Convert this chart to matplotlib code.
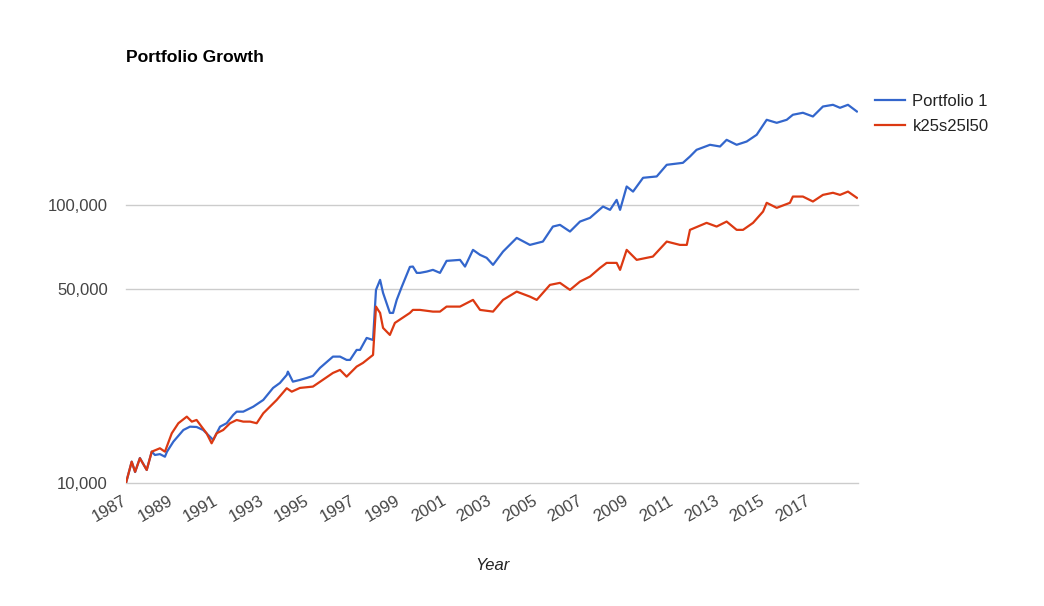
import matplotlib
matplotlib.use("Agg")
import matplotlib.pyplot as plt
from matplotlib.ticker import FixedLocator, FuncFormatter, NullLocator

plt.rcParams['font.family'] = ['Liberation Sans', 'DejaVu Sans']

# Portfolio 1 (blue) - (decimal year, value)
p1_years = [1987.00, 1987.25, 1987.40, 1987.61, 1987.91, 1988.13, 1988.27, 1988.49, 1988.71, 1988.80,
            1989.08, 1989.52, 1989.81, 1990.10, 1990.39, 1990.61, 1990.83, 1991.13, 1991.42, 1991.71,
            1991.86, 1992.15, 1992.59, 1993.03, 1993.46, 1993.76, 1994.06, 1994.11, 1994.33, 1994.64,
            1994.94, 1995.21, 1995.52, 1996.09, 1996.40, 1996.69, 1996.84, 1997.13, 1997.28, 1997.57,
            1997.85, 1997.98, 1998.16, 1998.29, 1998.59, 1998.73, 1998.89, 1999.11, 1999.47, 1999.60,
            1999.77, 1999.91, 2000.21, 2000.48, 2000.79, 2001.08, 2001.67, 2001.89, 2002.24, 2002.55,
            2002.84, 2003.12, 2003.56, 2004.16, 2004.74, 2005.31, 2005.75, 2006.06, 2006.50, 2006.94,
            2007.38, 2007.95, 2008.26, 2008.55, 2008.70, 2008.99, 2009.27, 2009.71, 2010.31, 2010.75,
            2011.46, 2011.77, 2012.06, 2012.65, 2013.09, 2013.38, 2013.82, 2014.26, 2014.70, 2015.14,
            2015.58, 2016.02, 2016.29, 2016.73, 2017.17, 2017.61, 2018.05, 2018.36, 2018.71, 2019.10]
p1_values = [10000, 11930, 10950, 12300, 11140, 12960, 12610, 12700, 12430, 12960,
             14080, 15510, 15940, 15900, 15510, 14880, 14280, 15940, 16400, 17570,
             18050, 18050, 18810, 19890, 21970, 22890, 24460, 25140, 23140, 23470,
             23860, 24260, 25930, 28470, 28470, 27700, 27700, 30090, 30090, 33230,
             32680, 49460, 53740, 48260, 40880, 40880, 45530, 50700, 59840, 60000,
             56940, 56940, 57560, 58380, 56940, 62890, 63410, 59990, 68890, 66090,
             64480, 60840, 67920, 76060, 71780, 73790, 83550, 84740, 80170, 87080,
             89790, 98610, 95940, 104200, 95940, 116400, 111600, 125100, 126500, 139300,
             141600, 149200, 157700, 164400, 162100, 171300, 164400, 168900, 178600, 202200,
             197200, 202200, 210800, 214300, 207800, 225700, 228900, 223300, 228900, 216600]

# k25s25l50 (red)
k_years = [1987.00, 1987.25, 1987.40, 1987.61, 1987.91, 1988.13, 1988.49, 1988.71, 1989.01, 1989.30,
           1989.67, 1989.89, 1990.10, 1990.32, 1990.54, 1990.76, 1990.98, 1991.27, 1991.57, 1991.86,
           1992.15, 1992.45, 1992.74, 1993.03, 1993.62, 1994.06, 1994.28, 1994.64, 1995.21, 1996.09,
           1996.40, 1996.69, 1997.13, 1997.41, 1997.85, 1997.98, 1998.07, 1998.16, 1998.29, 1998.59,
           1998.81, 1999.47, 1999.60, 1999.91, 2000.48, 2000.79, 2001.08, 2001.67, 2002.24, 2002.55,
           2003.12, 2003.56, 2004.16, 2004.74, 2005.04, 2005.62, 2006.06, 2006.50, 2006.94, 2007.38,
           2007.82, 2008.11, 2008.55, 2008.70, 2008.99, 2009.43, 2010.14, 2010.75, 2011.33, 2011.63,
           2011.77, 2012.50, 2012.94, 2013.38, 2013.82, 2014.10, 2014.54, 2014.98, 2015.14, 2015.58,
           2016.16, 2016.29, 2016.73, 2017.17, 2017.61, 2018.05, 2018.36, 2018.71, 2019.10]
k_values = [10000, 11930, 10970, 12270, 11140, 12960, 13330, 12960, 15090, 16400,
            17320, 16620, 16850, 15940, 15090, 13890, 15090, 15510, 16400, 16850,
            16620, 16620, 16400, 17810, 19890, 21910, 21300, 21970, 22210, 24870,
            25500, 24120, 26210, 27030, 28870, 43070, 41910, 40880, 36110, 34070,
            37630, 40880, 41910, 41910, 41320, 41320, 43070, 43070, 45530, 41910,
            41320, 45530, 48760, 46780, 45530, 51550, 52420, 49460, 52990, 55230,
            59340, 61850, 61850, 58380, 68890, 63410, 65170, 73790, 71780, 71780,
            81300, 86150, 83550, 87080, 81300, 81300, 86150, 94610, 101700, 97550,
            101700, 107100, 107100, 102800, 108600, 110500, 108600, 111600, 106000]

series_names = ["Portfolio 1", "k25s25l50"]
series_colors = ["#3366CC", "#DC3912"]
year_ticks = list(range(1987, 2018, 2))
value_ticks = [10000, 50000, 100000]

W, H = 1044, 606
fig = plt.figure(figsize=(W / 100, H / 100), dpi=100)
ax = fig.add_axes([126 / W, 1 - 483 / H, (858 - 126) / W, (483 - 92) / H])

ax.plot(p1_years, p1_values, color=series_colors[0], lw=1.6, label=series_names[0], zorder=3)
ax.plot(k_years, k_values, color=series_colors[1], lw=1.6, label=series_names[1], zorder=4)

ax.set_yscale('log')
ax.set_ylim(10000, 254500)
ax.set_xlim(1987.0, 2019.15)

ax.yaxis.set_major_locator(FixedLocator(value_ticks))
ax.yaxis.set_minor_locator(NullLocator())
ax.yaxis.set_major_formatter(FuncFormatter(lambda v, p: f"{int(v):,}"))
ax.xaxis.set_major_locator(FixedLocator(year_ticks))
ax.xaxis.set_minor_locator(NullLocator())
ax.xaxis.set_major_formatter(FuncFormatter(lambda v, p: f"{int(round(v))}"))

ax.grid(axis='y', color='#cccccc', lw=1)
for gl in ax.get_ygridlines():
    gl.set_clip_on(False)
ax.set_axisbelow(True)
for s in ax.spines.values():
    s.set_visible(False)
ax.tick_params(axis='both', length=0, labelsize=12, labelcolor='#444444')
ax.tick_params(axis='y', pad=13)
ax.tick_params(axis='x', pad=12)
for lbl in ax.get_xticklabels():
    lbl.set_rotation(30)
    lbl.set_ha('right')
    lbl.set_rotation_mode('anchor')
    lbl.set_va('center')

ax.set_xlabel("Year", fontsize=12, style='italic', color='#222222', labelpad=24)
fig.text(126 / W, 1 - 57 / H, "Portfolio Growth", fontsize=12.6, fontweight='bold',
         color='#000000', ha='left', va='center')

leg = ax.legend(loc='upper left', bbox_to_anchor=(875 / W, 1 - 94 / H),
                bbox_transform=fig.transFigure, frameon=False, fontsize=12,
                handlelength=1.8, handletextpad=0.45, labelspacing=0.62,
                labelcolor='#222222', borderaxespad=0, borderpad=0)

fig.savefig("out.png", dpi=100, facecolor='white')
